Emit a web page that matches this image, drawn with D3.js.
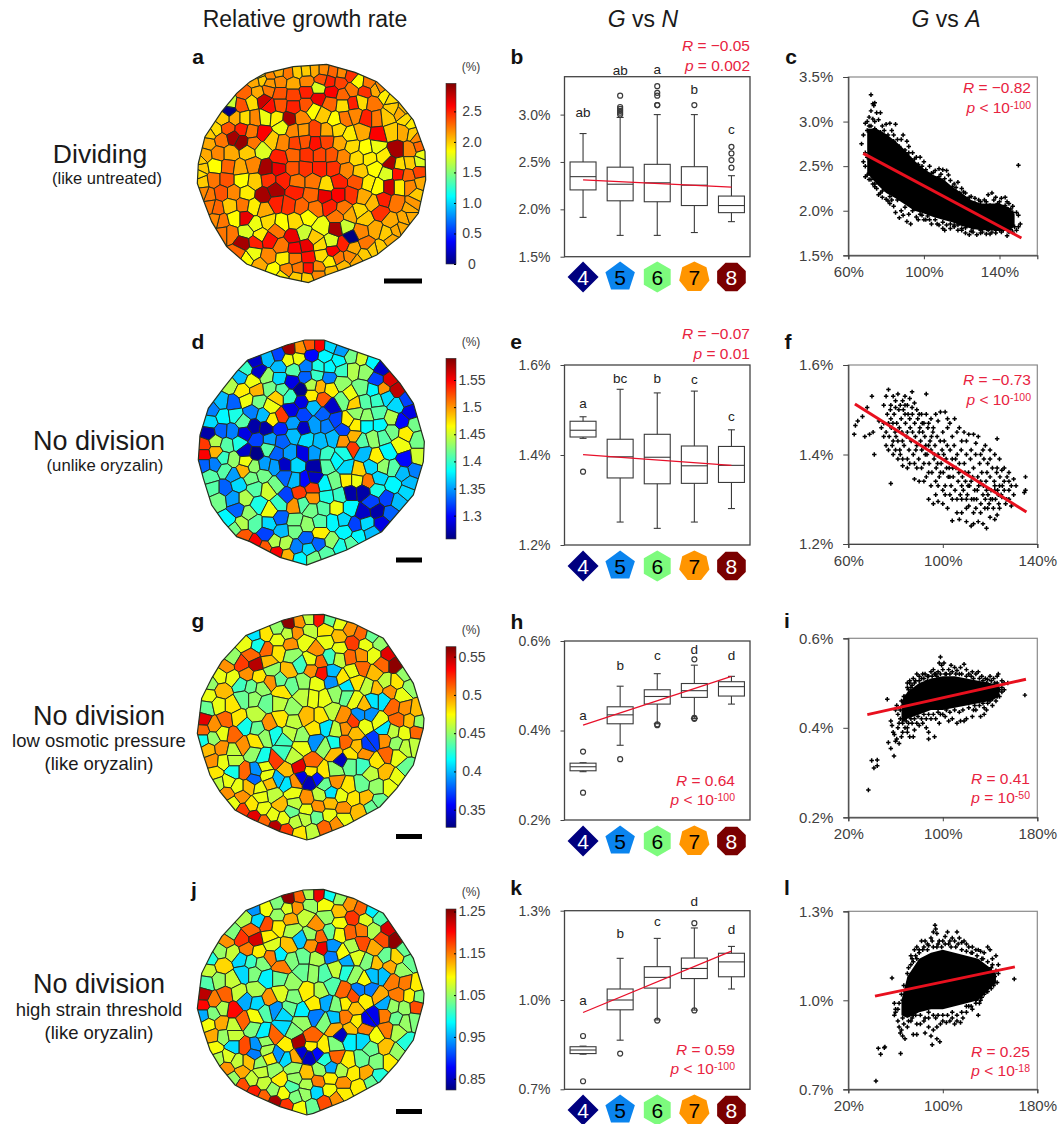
<!DOCTYPE html>
<html lang="en">
<head>
<meta charset="UTF-8">
<title>Relative growth rate, G vs N, G vs A</title>
<script src="https://cdnjs.cloudflare.com/ajax/libs/d3/7.8.5/d3.min.js"></script>
<style>
  body { margin: 0; background: #fff; }
  svg { display: block; font-family: "Liberation Sans", Arial, sans-serif; }
  .tick text { fill: #404040; }
</style>
</head>
<body>
<div id="chart"></div>
<script>
// ---- cell maps: tissue coordinates (arbitrary units) and growth rate in % ----
const outlineA = [[210,125],[255,100],[340,80],[440,73],[525,97],[590,125],[655,185],[700,240],[735,335],[737,420],[715,520],[660,590],[590,645],[510,680],[440,705],[385,728],[300,710],[200,672],[140,620],[95,545],[70,480],[52,430],[55,370],[75,290],[125,215],[170,160]];
const cellsA = [[270,105,2.2],[325,98,2.25],[352,95,2],[378,92,2],[405,90,2.1],[430,90,2.2],[460,95,2.3],[485,98,2.2],[512,105,2.45],
[225,122,2.1],[245,118,2],[270,130,2.15],[300,125,2.2],[340,130,2.1],[380,125,2.2],[425,118,2.35],[450,125,2.5],[480,128,2.4],[535,125,1.85],[565,128,2.25],
[195,160,2.3],[235,158,2.1],[265,150,2.25],[300,160,2.35],[340,165,2.4],[380,155,2.5],[415,145,1.75],[455,155,2.6],[490,165,2.3],[515,150,2.25],[555,155,2.45],[590,150,2.1],
[150,190,1.7],[185,195,2.35],[215,185,1.95],[250,180,2.75],[270,200,2.55],[300,195,2.35],[340,200,2.5],[380,195,2.35],[415,175,2.65],[450,190,2.3],[490,195,1.95],[520,190,2.5],[545,185,1.95],[580,190,2.25],[615,165,1.9],[640,205,2],[147,212,0],
[130,235,2],[165,235,2.1],[195,235,1.95],[225,235,2.2],[255,232,1.8],[290,235,1.9],[328,238,2.85],[365,235,2.2],[400,210,1.85],[430,225,2],[465,240,1.85],[495,235,2.25],[525,225,2.2],[560,235,2.5],[590,235,2.25],[620,232,2],[660,215,2.1],[680,240,1.95],
[105,270,1.95],[145,265,2.35],[185,268,2.5],[215,275,2.25],[250,280,2.6],[305,260,1.8],[340,272,2.2],[370,270,2.15],[405,270,2.4],[440,272,2.1],[475,268,1.95],[510,285,1.9],[545,275,2.1],[595,285,2.6],[635,275,2],[670,275,2.1],[700,280,2],
[85,310,2.1],[125,300,2.25],[160,292,2.85],[185,305,2.9],[220,310,2.25],[275,300,2],[310,308,2.2],[345,310,2.4],[375,305,2.35],[405,310,2.55],[440,305,2.4],[480,310,2.1],[515,320,1.95],[560,325,1.85],[590,320,1.8],[650,330,2.85],[690,330,2.2],[720,320,2.3],
[75,345,2.1],[115,340,2.2],[150,340,2.1],[205,335,2],[245,330,1.75],[300,355,2.5],[340,345,2.3],[380,345,2.45],[420,345,2.4],[455,345,2.35],[490,350,2.2],[530,355,1.95],[570,355,1.9],[610,350,1.9],
[65,385,2],[105,378,1.85],[145,380,2.3],[180,385,2.1],[220,375,2.2],[258,385,2.85],[295,385,2.65],[340,385,2.35],[375,385,2.45],[420,385,2.5],[460,385,2.45],[500,390,2.2],[540,395,2],[585,385,1.85],[630,370,2.85],[660,375,1.95],[690,370,2],[720,365,1.75],
[68,425,2],[100,420,2.25],[140,420,2.35],[185,420,1.85],[225,425,2],[265,420,2.45],[310,420,2.5],[350,425,2.25],[400,425,2.25],[440,435,1.95],[475,425,2.5],[530,425,2.35],[565,430,1.9],[620,400,1.75],[655,400,2.55],[685,405,2.3],[718,395,2.4],
[85,465,2.25],[125,458,2.35],[160,458,2.2],[200,460,1.9],[250,465,2.85],[285,450,2.85],[345,455,2.5],[395,465,2.3],[435,468,2.65],[475,465,2.6],[515,465,2.45],[550,470,2.1],[595,440,1.85],[628,440,2.75],[658,440,1.9],[690,440,2.2],[712,465,2],
[110,505,2.3],[150,498,2],[190,495,2.25],[220,500,1.9],[255,510,2.1],[290,490,2.5],[325,495,2.45],[365,500,2.3],[405,505,2.25],[450,500,2.5],[490,505,2.25],[540,515,1.95],[580,490,2.05],[610,480,2.5],[650,490,2.25],[690,505,2.1],
[125,545,2.25],[165,535,1.85],[195,535,2.65],[225,555,1.8],[265,545,1.95],[305,550,1.85],[345,545,1.95],[385,530,1.85],[425,560,1.8],[470,530,2.25],[510,525,2.1],[555,535,2],[600,515,2.45],[635,545,2.1],[675,535,2.1],
[150,580,2.25],[200,575,1.75],[240,585,1.9],[290,570,2.25],[340,590,2.65],[370,580,1.7],[405,595,2],[455,605,1.75],[470,565,2.85],[497,560,1.7],[512,592,0],[545,575,2.2],[585,570,2.1],[620,580,2],[650,570,2.1],
[190,610,2.85],[225,607,2.5],[268,600,2.55],[305,620,2.25],[345,625,2.6],[380,618,2.65],[420,615,1.95],[458,633,2.6],[490,612,2.5],[520,625,2.1],[560,610,2.25],[600,625,2],
[200,655,1.85],[220,640,1.8],[265,650,2.2],[310,655,1.9],[345,655,2.25],[385,652,2.55],[425,645,1.95],[475,655,2.25],[510,650,2.2],[555,645,2],
[240,675,2.1],[280,690,1.85],[320,690,2.2],[355,685,2.25],[385,685,2.55],[415,685,2.2],[450,665,1.9],[490,680,2.05],
[305,710,1.9],[350,712,2],[380,715,2],[415,702,2.2],[455,695,2.05],
[600,145,2.2],[635,175,1.95],[670,205,2.05],[692,250,1.9],[712,290,2.2],[728,345,1.8],[725,430,2.1],[700,490,2.15],[690,530,2.1],[665,565,2.1],[635,600,2.1],[580,630,2],[530,665,2.1],[175,640,2.3],[130,580,2.25],[105,540,2.2],[90,500,2.25],[72,460,2.2],[58,400,1.95],[60,360,2],[90,280,2],[295,95,2.1],[240,105,2]];

const outlineD = [[203,105],[320,60],[375,45],[432,45],[500,70],[600,105],[660,175],[700,235],[733,350],[730,410],[700,510],[605,620],[500,675],[440,698],[380,720],[300,697],[210,650],[170,635],[130,590],[95,540],[70,460],[55,405],[60,330],[85,250],[130,190],[170,140]];
const cellsD = [[330,72,1.58],[360,70,1.5],[390,60,1.52],[418,60,1.55],[450,62,1.37],[485,75,1.35],
[225,108,1.28],[265,100,1.36],[295,90,1.32],[325,105,1.46],[355,100,1.46],[395,90,1.3],[435,95,1.38],[475,110,1.38],[515,95,1.42],[545,100,1.45],[577,110,1.38],[605,130,1.28],
[195,130,1.4],[238,140,1.28],[298,125,1.36],[340,135,1.41],[378,125,1.34],[415,125,1.39],[450,125,1.38],[485,135,1.4],[520,135,1.44],[555,140,1.43],[590,165,1.32],[630,165,1.56],
[180,155,1.36],[260,155,1.43],[298,160,1.37],[335,170,1.29],[362,195,1.26],[378,155,1.33],[410,150,1.4],[448,160,1.34],[482,175,1.43],[150,180,1.44],[188,198,1.47],[218,170,1.46],[230,195,1.49],[270,190,1.42],[305,195,1.41],[420,185,1.49],[452,190,1.47],[395,180,1.44],[510,210,1.46],[545,190,1.42],[610,192,1.5],[650,195,1.57],[580,195,1.38],
[125,230,1.36],[160,235,1.33],[200,225,1.46],[235,230,1.42],[272,245,1.46],[290,215,1.48],[330,215,1.4],[395,212,1.47],[428,222,1.52],[365,230,1.29],[455,245,1.28],[490,225,1.42],[525,235,1.48],[555,230,1.41],[590,225,1.4],[620,215,1.37],[650,240,1.37],[680,225,1.32],
[95,255,1.34],[90,290,1.37],[130,275,1.38],[165,270,1.39],[190,290,1.41],[215,260,1.34],[250,270,1.36],[305,275,1.53],[278,285,1.47],[335,255,1.29],[370,270,1.32],[400,245,1.36],[430,270,1.33],[465,285,1.32],[505,288,1.47],[530,265,1.43],[560,275,1.43],[595,265,1.41],[635,280,1.44],[665,290,1.3],[692,260,1.29],
[85,325,1.27],[125,318,1.33],[155,320,1.34],[195,325,1.29],[222,305,1.27],[258,310,1.27],[300,310,1.31],[340,295,1.35],[370,310,1.28],[405,300,1.35],[440,300,1.34],[490,315,1.32],[525,300,1.47],[560,300,1.38],[600,300,1.38],[635,320,1.42],[678,325,1.47],[705,300,1.42],
[72,360,1.53],[107,350,1.44],[140,360,1.41],[178,355,1.39],[230,345,1.32],[270,345,1.35],[305,350,1.33],[342,330,1.36],[380,345,1.37],[420,350,1.36],[460,340,1.36],[490,348,1.5],[522,335,1.49],[520,368,1.53],[545,350,1.41],[580,340,1.43],[610,335,1.41],[660,360,1.46],[715,340,1.42],
[72,388,1.55],[107,380,1.49],[105,418,1.34],[72,420,1.33],[130,400,1.4],[160,405,1.43],[195,378,1.28],[228,385,1.26],[265,370,1.41],[290,385,1.33],[330,385,1.35],[370,385,1.29],[402,385,1.35],[440,390,1.4],[490,385,1.39],[550,385,1.36],[590,397,1.47],[625,380,1.38],[675,405,1.3],[715,400,1.45],
[90,455,1.41],[135,435,1.41],[160,450,1.35],[190,435,1.49],[197,410,1.46],[222,425,1.43],[255,420,1.35],[282,425,1.35],[315,420,1.28],[350,420,1.37],[405,425,1.27],[440,420,1.41],[470,405,1.38],[500,430,1.37],[535,437,1.48],[575,425,1.37],[610,425,1.43],[640,430,1.41],[705,435,1.34],[668,445,1.36],
[100,490,1.41],[135,490,1.33],[175,480,1.37],[215,460,1.42],[250,450,1.42],[285,480,1.42],[315,455,1.33],[345,465,1.36],[375,465,1.3],[402,458,1.28],[435,480,1.38],[465,470,1.42],[500,465,1.47],[530,465,1.46],[565,470,1.51],[597,460,1.37],[640,480,1.38],[690,475,1.36],
[115,525,1.42],[160,520,1.35],[195,520,1.44],[225,490,1.41],[265,495,1.45],[320,515,1.32],[358,505,1.53],[397,490,1.53],[397,518,1.5],[440,515,1.39],[480,510,1.4],[510,503,1.27],[550,500,1.27],[590,495,1.39],[620,520,1.32],[655,530,1.36],[680,500,1.37],
[145,585,1.38],[172,555,1.33],[205,565,1.43],[235,540,1.39],[270,558,1.46],[300,535,1.4],[343,540,1.5],[368,535,1.41],[395,555,1.42],[430,550,1.41],[470,550,1.46],[510,550,1.38],[550,563,1.28],[592,558,1.27],[575,530,1.32],[630,565,1.33],
[165,610,1.42],[185,595,1.44],[225,595,1.41],[268,595,1.37],[300,580,1.33],[345,590,1.42],[382,600,1.43],[420,590,1.41],[460,590,1.38],[490,585,1.37],[525,600,1.32],[560,595,1.37],[605,595,1.29],
[190,635,1.52],[225,655,1.55],[258,628,1.32],[305,618,1.36],[345,615,1.42],[380,640,1.33],[420,625,1.47],[455,650,1.43],[495,620,1.38],[535,635,1.38],[575,625,1.36],
[255,668,1.52],[285,650,1.44],[315,655,1.44],[290,683,1.55],[350,668,1.34],[415,655,1.33],[385,672,1.37],[322,692,1.49],[360,700,1.38],[400,700,1.42],[440,685,1.41],[480,665,1.39],[515,655,1.41]];

// g and j are the same tissue: x, y, growth in g, growth in j
const outlineG = [[197,92],[310,45],[370,30],[430,28],[520,55],[610,100],[665,180],[700,235],[732,340],[730,370],[700,480],[650,550],[600,605],[500,660],[400,700],[380,705],[300,680],[210,640],[165,615],[120,560],[90,510],[70,450],[52,385],[65,280],[95,220],[125,170]];
const cellsG = [[327,55,.56,1.25],[358,52,.5,1.16],[388,42,.46,1.06],[415,42,.53,1.21],[450,45,.44,.99],[480,55,.47,1.05],[510,72,.5,1.14],[543,85,.51,1.16],[575,93,.44,.98],
[222,88,.41,.94],[258,85,.48,1.09],[293,70,.45,1.04],[322,85,.46,1.08],[352,82,.5,1.14],[388,75,.46,1.05],[437,75,.48,1.09],[477,95,.49,1.12],[517,115,.52,1.18],[557,120,.47,1.08],[600,115,.45,1.02],
[197,115,.47,1.06],[233,122,.42,.97],[260,135,.51,1.17],[295,105,.47,1.05],[330,118,.5,1.13],[375,108,.47,1.07],[410,135,.5,1.14],[440,110,.47,1.05],[480,130,.47,1.09],[625,148,.54,1.22],
[155,160,.45,1.04],[185,178,.52,1.18],[215,150,.51,1.16],[228,178,.55,1.22],[265,170,.49,1.1],[295,140,.48,1.1],[335,150,.45,1.06],[395,165,.47,1.05],[360,180,.43,.96],[420,170,.51,1.16],[450,155,.43,1.03],[478,160,.46,1.09],[510,155,.51,1.16],[545,150,.5,1.15],[580,150,.47,1.06],[607,178,.51,1.17],[647,178,.56,1.25],
[140,183,.5,1.14],[120,213,.47,1.05],[158,218,.47,1.07],[200,208,.5,1.15],[237,215,.48,1.1],[275,195,.45,1.08],[300,225,.44,.98],[327,197,.49,1.12],[395,195,.5,1.14],[425,205,.53,1.21],[458,202,.4,.94],[455,228,.39,.93],[487,220,.48,1.09],[520,200,.47,1.06],[545,190,.51,1.17],[585,205,.49,1.13],[615,230,.46,1.03],[650,232,.48,1.11],[675,208,.45,1.03],
[90,235,.45,1],[128,258,.49,1.11],[85,272,.47,1.07],[183,238,.43,.97],[213,245,.44,1.01],[245,250,.45,1.04],[272,230,.5,1.15],[305,260,.48,1.15],[335,240,.44,1.04],[370,230,.45,1.03],[410,235,.47,1.06],[500,243,.41,.95],[530,230,.48,1.08],[565,245,.46,1.04],[588,250,.49,1.12],[630,260,.5,1.13],[665,270,.47,1.05],[690,245,.45,1.03],
[80,308,.44,1.02],[117,300,.47,1.05],[155,300,.48,1.07],[190,280,.44,.97],[222,280,.45,1.04],[258,295,.44,.98],[298,295,.46,1.03],[338,310,.45,1.05],[370,275,.46,1.03],[400,278,.47,1.05],[432,280,.47,1.02],[467,265,.45,1.07],[500,273,.44,1],[525,285,.47,1.05],[553,300,.49,1.09],[580,285,.41,.96],[610,285,.41,.96],[640,305,.51,1.15],[675,310,.5,1.15],[710,315,.49,1.1],
[70,345,.54,1.23],[68,375,.51,1.2],[103,362,.5,1.15],[137,345,.51,1.16],[175,340,.48,1.07],[195,362,.42,.95],[228,330,.46,1.06],[268,357,.5,1.14],[303,340,.48,1.08],[340,350,.46,1.04],[380,335,.49,1.1],[425,335,.48,1.06],[455,320,.46,1.02],[490,335,.5,1.16],[520,350,.52,1.17],[540,330,.39,.93],[568,330,.39,.93],[597,350,.47,1.13],[655,345,.51,1.15],[688,347,.49,1.1],[718,350,.45,1.04],
[68,405,.42,.95],[100,400,.45,1.04],[160,390,.51,1.2],[128,385,.47,1.06],[233,370,.44,.97],[285,388,.42,.94],[330,385,.46,1.03],[365,395,.45,.98],[403,372,.48,1.1],[438,367,.41,.95],[468,375,.46,1.04],[497,370,.5,1.1],[525,385,.49,1.12],[555,360,.47,1.1],[612,372,.41,.95],[640,380,.46,1.05],[672,385,.47,1.05],[710,382,.51,1.17],
[85,435,.49,1.09],[125,430,.5,1.13],[160,438,.46,1.07],[190,422,.5,1.16],[225,410,.48,1.09],[255,395,.45,1.02],[312,405,.43,.97],[365,425,.47,1.05],[408,408,.39,.93],[435,425,.45,1.04],[462,415,.42,.96],[497,412,.51,1.15],[530,425,.49,1.1],[563,422,.37,.87],[583,407,.37,.87],[612,405,.5,1.15],[675,425,.46,1.05],[705,420,.46,1.04],[650,415,.45,1.03],
[97,467,.5,1.13],[130,470,.47,1.05],[160,465,.46,1.07],[220,445,.45,1.04],[250,458,.42,.98],[285,465,.52,1.16],[310,440,.43,.97],[340,455,.46,1.04],[395,473,.51,1.16],[465,445,.49,1.13],[483,465,.34,.85],[512,445,.48,1.12],[555,445,.5,1.15],[590,470,.48,1.09],[622,450,.51,1.15],[650,455,.47,1.06],[680,490,.44,1],
[105,505,.48,1.09],[160,500,.42,.97],[195,500,.51,1.17],[228,497,.39,.94],[255,485,.47,1.05],[318,497,.49,1.1],[357,487,.54,1.24],[393,498,.48,1.1],[430,500,.48,1.1],[465,495,.45,1.04],[510,480,.44,.98],[548,480,.43,.97],[575,505,.46,1.03],[615,500,.49,1.12],[652,518,.47,1.05],
[115,535,.46,1.06],[145,530,.47,1.08],[222,522,.38,.93],[260,510,.47,1.06],[296,523,.4,.94],[320,535,.41,.97],[365,517,.35,.86],[388,530,.34,.85],[412,520,.36,.88],[468,530,.5,1.16],[435,540,.44,1],[505,545,.48,1.1],[545,540,.44,1.03],[590,545,.45,1.04],[630,545,.47,1.1],
[142,565,.5,1.14],[185,575,.5,1.13],[172,545,.47,1.07],[207,545,.49,1.12],[240,550,.47,1.05],[270,535,.49,1.1],[345,530,.5,1.13],[280,570,.46,1.05],[245,575,.47,1.07],[340,565,.47,1.05],[380,580,.5,1.12],[420,570,.46,1.05],[452,563,.41,.95],[485,572,.47,1.06],[520,580,.48,1.1],[558,578,.49,1.13],[595,590,.44,1],
[160,595,.47,1.05],[190,615,.52,1.17],[215,600,.48,1.07],[250,610,.47,1.07],[300,600,.49,1.1],[345,595,.46,1.05],[380,615,.47,1.06],[415,605,.5,1.15],[450,595,.49,1.1],[490,610,.5,1.14],[535,620,.49,1.1],[575,605,.44,1.03],
[222,635,.54,1.19],[252,650,.51,1.16],[285,665,.55,1.24],[280,630,.47,1.05],[318,675,.52,1.18],[335,620,.44,1.02],[375,640,.46,1.05],[410,635,.44,.97],[448,630,.47,1.09],[490,640,.47,1.1],[347,650,.46,1.04],[360,685,.48,1.09],[397,680,.46,1.03],[433,668,.51,1.17],[470,655,.5,1.14],[310,640,.47,1.09]];

// ---- colour bar ticks and ranges ----
const ticksA = [0,0.5,1,1.5,2,2.5], rangeA = [0,2.96];
const ticksD = [1.3,1.35,1.4,1.45,1.5,1.55], rangeD = [1.257,1.59];
const ticksG = [0.35,0.4,0.45,0.5,0.55], rangeG = [0.327,0.563];
const ticksJ = [0.85,0.95,1.05,1.15,1.25], rangeJ = [0.823,1.256];
const jet = ["#00007f","#0000ff","#007fff","#00ffff","#7fff7f","#ffff00","#ff7f00","#ff0000","#7f0000"];

// ---- box plots: [low whisker, Q1, median, Q3, high whisker] for 4..8 neighbours ----
const neighbours = [4,5,6,7,8];
const boxB = [[1.915,2.205,2.345,2.5,2.8],[1.725,2.09,2.265,2.445,2.97],[1.725,2.08,2.28,2.475,3],[1.755,2.04,2.255,2.45,3],[1.87,1.965,2.04,2.14,2.355]];
const outB = [[],[3.2,3.08,3.06,3.04,3.02,3],[3.1,3.2,3.23,3.3,3.1],[3.1],[2.44,2.52,2.59,2.66]];
const trendB = [2.31,2.235];
const lettersB = [["ab",3.02],["ab",3.47],["a",3.48],["b",3.27],["c",2.845]];
const boxE = [[1.437,1.44,1.455,1.475,1.485],[1.251,1.349,1.396,1.435,1.546],[1.237,1.336,1.395,1.446,1.538],[1.251,1.337,1.376,1.42,1.542],[1.281,1.339,1.377,1.419,1.456]];
const outE = [[1.363],[],[],[],[]];
const trendE = [1.401,1.377];
const lettersE = [["a",1.515],["bc",1.57],["b",1.57],["c",1.569],["c",1.487]];
const boxH = [[.308,.31,.319,.327,.328],[.367,.415,.435,.453,.499],[.415,.459,.476,.491,.527],[.427,.474,.489,.505,.546],[.459,.477,.498,.509,.521]];
const outH = [[.353,.261],[.336],[.412,.414],[.559,.426,.428],[]];
const trendH = [.412,.521];
const lettersH = [["a",.435],["b",.545],["c",.567],["d",.581],["d",.569]];
const boxK = [[.818,.82,.832,.843,.845],[.865,.967,1,1.037,1.14],[.933,1.04,1.076,1.112,1.207],[.966,1.072,1.106,1.141,1.242],[1.037,1.078,1.128,1.157,1.18]];
const outK = [[.879,.727],[.82],[.931],[1.258,.965],[]];
const trendK = [.958,1.164];
const lettersK = [["a",1],["b",1.224],["c",1.266],["d",1.33],["d",1.237]];

// ---- scatter clouds: [A %, G %] points, dense core as [A, low G, high G] ----
const coreC = [[70,2.42,2.92],[75,2.3,2.92],[80,2.2,2.86],[85,2.14,2.78],[90,2.07,2.68],[95,2,2.56],[100,1.97,2.47],[105,1.93,2.4],[110,1.9,2.36],[115,1.87,2.27],[120,1.83,2.2],[125,1.8,2.12],[130,1.78,2.08],[135,1.78,2.08],[140,1.78,2.08],[145,1.78,2.04],[148,1.82,1.96]];
const pointsC = [[72,3.3],[73,3.2],[73.5,3.18],[74,3.21],[72,3.12],[75,3.1],[77,3.1],[71,3.05],[70,3],[69,2.98],[73,3.03],[76,3.02],[78,2.95],[80,2.97],[82,2.98],[85,2.97],[83,2.9],[88,2.8],[89,2.85],[91,2.78],[92,2.72],[94,2.65],[96,2.6],[98,2.6],[100,2.55],[103,2.5],[106,2.45],[108,2.47],[110,2.46],[112,2.45],[113,2.4],[116,2.3],[118,2.32],[120,2.25],[122,2.2],[124,2.15],[127,2.14],[130,2.1],[132,2.12],[134,2.18],[136,2.2],[138,2.15],[141,2.14],[143,2.15],[145,2.08],[147,2.05],[149,1.98],[150,1.95],[151,1.85],[150,1.82],[150,2.51],
[67,2.75],[68,2.85],[69,2.65],[68,2.55],[69,2.38],[71,2.42],[72,2.35],[73,2.3],[75,2.25],[76,2.18],[78,2.15],[80,2.13],[82,2.08],[84,2.05],[85,1.98],[87,1.92],[89,1.95],[91,1.88],[93,1.85],[97,1.9],[99,1.95],[101,1.9],[104,1.85],[107,1.85],[110,1.8],[111,1.78],[114,1.8],[116,1.82],[118,1.78],[120,1.8],[122,1.75],[124,1.73],[126,1.76],[128,1.73],[130,1.75],[133,1.74],[135,1.74],[138,1.75],[141,1.76],[144,1.72],[147,1.76],[149,1.78],
[70,2.9],[72,2.95],[74,2.92],[77,2.88],[81,2.85],[84,2.78],[87,2.72],[90,2.68],[93,2.58],[97,2.52],[101,2.46],[104,2.42],[108,2.38],[111,2.36],[115,2.27],[119,2.2],[123,2.12],[127,2.08],[131,2.05],[135,2.06],[139,2.08],[143,2.06],[146,2.02],[70,2.4],[74,2.3],[78,2.22],[82,2.16],[86,2.12],[90,2.04],[94,2],[98,1.96],[102,1.94],[106,1.9],[110,1.87],[114,1.85],[118,1.84],[122,1.81],[126,1.8],[130,1.78],[134,1.78],[138,1.78],[142,1.78],[146,1.79],
[71,2.95],[74,3],[79,2.9],[84,2.85],[86,2.8],[92,2.65],[95,2.58],[99,2.5],[105,2.43],[109,2.41],[114,2.34],[117,2.26],[121,2.21],[125,2.16],[129,2.12],[133,2.1],[137,2.12],[140,2.1],[144,2.1],[147,1.98],[69,2.5],[70,2.6],[71,2.35],[74,2.27],[77,2.2],[81,2.11],[83,2.12],[88,2],[92,1.96],[96,1.93],[100,1.9],[103,1.9],[108,1.84],[112,1.84],[116,1.84],[120,1.78],[125,1.77],[131,1.76],[136,1.76],[140,1.78],[145,1.76],[148,1.82]];
const trendC = [[67.9,2.644],[151.6,1.694]];

// panel f has no solid core, only separate points
const pointsF = [[62.5,1.445],[63,1.465],[64,1.475],[66,1.485],[68,1.505],[70,1.53],[67,1.44],[69,1.445],[70.5,1.45],[71,1.4],[73,1.475],[75,1.51],[76,1.53],[77,1.545],[78,1.51],[79,1.53],[80,1.52],[81,1.535],[83,1.52],[84,1.53],[86,1.525],[87,1.54],[88,1.515],[93,1.535],[91,1.49],[93,1.49],[95,1.48],[97,1.49],[99,1.495],[101,1.495],[102,1.48],[105,1.48],[103,1.47],[107,1.46],[109,1.45],[111,1.445],[113,1.445],[115,1.44],[118,1.42],[120,1.41],[123,1.435],[122,1.4],[124,1.39],[126,1.37],[128,1.36],[130,1.345],[135,1.35],[135,1.32],[134.5,1.315],[131,1.33],[130,1.31],[128,1.32],[129,1.285],[127,1.3],[125,1.305],[124,1.28],[123,1.265],[122,1.255],[120,1.26],[118.5,1.235],[117,1.245],[115,1.25],[113,1.245],[112,1.24],[110,1.25],[107,1.255],[104,1.252],[106,1.27],[108,1.27],[110,1.28],[102,1.28],[100,1.29],[98,1.295],[96,1.29],[94,1.3],[97,1.31],[95,1.33],[92,1.34],[90,1.34],[88,1.345],[85,1.37],[83,1.375],[81,1.39],[78,1.335],[79,1.4],[77,1.41],[76,1.42],[75,1.44],[74,1.46],
[78,1.48],[77,1.47],[82,1.51],[85,1.51],[89,1.5],[92,1.47],[96,1.46],[100,1.45],[104,1.44],[108,1.43],[112,1.41],[116,1.4],[119,1.38],[123,1.37],[126,1.34],[124,1.33],[121,1.3],[119,1.28],[116,1.27],[113,1.27],[110,1.3],[106,1.3],[103,1.31],[100,1.32],[97,1.34],[94,1.36],[91,1.37],[88,1.38],[85,1.39],[82,1.4],[79,1.43],
[80,1.505],[84,1.51],[87,1.505],[90,1.49],[94,1.47],[98,1.475],[102,1.46],[106,1.45],[110,1.43],[114,1.425],[117,1.41],[120,1.39],[125,1.365],[128,1.34],[122,1.32],[118,1.3],[114,1.28],[111,1.285],[108,1.3],[104,1.3],[101,1.31],[98,1.33],[93,1.35],[89,1.37],[86,1.38],[83,1.39],[80,1.41],[76,1.45],[75,1.47],
[76.5,1.49],[77.3,1.44],[78.2,1.46],[78.6,1.42],[79.4,1.49],[79.8,1.45],[80.5,1.47],[81,1.43],[81.4,1.5],[81.8,1.41],[82.4,1.48],[82.7,1.45],[83.3,1.5],[83.6,1.42],[84.2,1.47],[84.6,1.44],[85.3,1.49],[85.7,1.41],[86.2,1.46],[86.6,1.43],[87.1,1.49],[87.5,1.4],[88.1,1.47],[88.4,1.44],[89,1.42],[89.4,1.48],[89.8,1.39],[90.3,1.46],[90.6,1.43],[91.1,1.41],[91.5,1.45],[92,1.38],[92.4,1.44],[92.8,1.42],[93.3,1.4],[93.7,1.46],[94.2,1.38],[94.6,1.43],[95,1.41],[95.4,1.36],[95.8,1.45],[96.3,1.39],[96.7,1.42],[97.2,1.37],[97.6,1.44],[98,1.4],[98.5,1.35],[98.9,1.43],[99.3,1.38],[99.7,1.41],[100.2,1.36],[100.6,1.43],[101,1.33],[101.4,1.39],[101.9,1.42],[102.3,1.35],[102.7,1.37],[103.1,1.41],[103.5,1.33],[104,1.39],[104.4,1.35],[104.8,1.42],[105.2,1.32],[105.6,1.37],[106.1,1.4],[106.5,1.34],[107,1.38],[107.4,1.31],[107.8,1.41],[108.3,1.35],[108.7,1.32],[109.1,1.38],[109.6,1.34],[110,1.4],[110.4,1.31],[110.9,1.36],[111.3,1.33],[111.7,1.39],[112.2,1.3],[112.6,1.35],[113,1.37],[113.5,1.32],[113.9,1.4],[114.3,1.3],[114.8,1.35],[115.2,1.33],[115.6,1.38],[116.1,1.29],[116.5,1.36],[117,1.31],[117.4,1.39],[117.8,1.28],[118.3,1.34],[118.7,1.36],[119.1,1.31],[119.6,1.29],[120,1.35],[120.4,1.32],[121,1.37],[121.4,1.28],[121.8,1.34],[122.3,1.3],[122.8,1.36],[123.2,1.32],[123.7,1.29],[124.2,1.35],[124.7,1.31],[125.2,1.33],[126,1.32],[126.6,1.29],[127.2,1.35],[128,1.3],[129,1.33],
[77.8,1.5],[78.9,1.47],[80.2,1.44],[81.6,1.46],[82.9,1.43],[84,1.49],[85,1.45],[86,1.48],[87.2,1.45],[88.6,1.41],[90,1.45],[91.3,1.47],[92.6,1.4],[94,1.42],[95.2,1.44],[96.5,1.4],[97.8,1.38],[99,1.36],[100.4,1.4],[101.6,1.37],[103,1.35],[104.2,1.37],[105.4,1.39],[106.8,1.36],[108,1.33],[109.4,1.36],[110.7,1.33],[112,1.34],[113.2,1.3],[114.6,1.32],[116,1.34],[117.2,1.33],[118.5,1.32],[120.2,1.3],[122,1.33],[123.5,1.31]];
const trendF = [[62.8,1.513],[135.4,1.2715]];

const coreI = [[65,.41,.46],[70,.42,.48],[80,.43,.5],[90,.44,.51],[100,.44,.515],[110,.445,.515],[120,.45,.51],[130,.455,.505],[140,.46,.5],[148,.47,.495]];
const pointsI = [[37,.261],[39.8,.327],[44.5,.328],[41.7,.31],[44.5,.315],[58.7,.337],[56,.354],[53.9,.367],[53,.464],[169.5,.473],
[59,.385],[60,.37],[61,.375],[58,.39],[57,.405],[56,.415],[63,.365],[65,.38],[62,.4],[64,.42],[60,.44],[61,.45],[65,.46],[67,.47],[70,.49],[70,.5],[72,.505],[73,.49],[75,.51],[78,.52],[80,.515],[83,.52],[85,.52],[87,.505],[90,.525],[92,.53],[94,.52],[96,.525],[97,.545],[98,.558],[99,.54],[101,.545],[103,.52],[105,.53],[107,.54],[110,.535],[112,.528],[115,.535],[118,.542],[120,.53],[122,.52],[125,.525],[128,.52],[130,.525],[133,.515],[136,.51],[138,.508],[140,.515],[143,.51],[146,.515],[147,.52],[150,.505],[152,.5],[155,.5],[152,.485],[150,.48],[148,.47],[145,.46],[142,.45],[140,.46],[137,.44],[135,.43],[132,.425],[128,.44],[125,.425],[120,.42],[118,.415],[115,.415],[112,.41],[108,.42],[105,.415],[102,.425],[100,.43],[97,.41],[93,.38],[88,.375],[88,.39],[86,.4],[83,.41],[80,.405],[76,.395],[75,.38],[72,.38],[70,.39],[68,.4],[66,.39],
[63,.41],[66,.41],[70,.4],[74,.41],[78,.41],[82,.42],[86,.42],[90,.42],[94,.42],[66,.45],[68,.44],[72,.5],[76,.5],[82,.51],[88,.515],[93,.52],[100,.53],[108,.525],[114,.52],[124,.515],[134,.505],[144,.5],[148,.485],[145,.48],[135,.445],[126,.44],
[62,.43],[64,.44],[67,.42],[69,.415],[71,.41],[73,.42],[76,.42],[79,.425],[84,.43],[88,.43],[92,.43],[96,.435],[98,.43],[103,.44],[106,.435],[110,.44],[114,.435],[117,.44],[122,.445],[127,.45],[131,.45],[134,.455],[138,.455],[142,.465],[146,.47],[150,.49],[68,.47],[71,.485],[74,.495],[77,.505],[80,.505],[84,.51],[87,.515],[91,.515],[95,.515],[98,.52],[102,.52],[106,.52],[111,.52],[116,.52],[120,.515],[126,.51],[131,.51],[137,.5],[141,.505],[146,.5]];
const trendI = [[36.1,.4295],[170.4,.5085]];

const coreL = [[65,.95,1],[70,.94,1.08],[80,.96,1.14],[90,.97,1.16],[100,.97,1.17],[110,.98,1.16],[120,.99,1.15],[130,1,1.14],[140,1.04,1.11],[145,1.06,1.09]];
const pointsL = [[43.4,.728],[45.4,.838],[51,.843],[50.5,.84],[47.4,.818],[64.3,.821],[57,1.075],[160.5,1.072],
[59,.99],[60,.97],[59,.95],[60,.96],[62,.93],[63,.91],[64,.89],[65,.9],[66,.88],[68,.87],[70,.91],[66,.94],[68,.96],[70,.99],[66,1],[68,1.03],[72,1.06],[74,1.09],[73,1.12],[73,1.15],[75,1.13],[76,1.17],[78,1.18],[80,1.16],[82,1.2],[85,1.2],[87,1.19],[90,1.21],[91,1.2],[92,1.23],[93.4,1.253],[94,1.24],[95,1.225],[97,1.2],[100,1.2],[102,1.215],[104,1.23],[106,1.2],[108,1.21],[110,1.2],[112,1.23],[114,1.21],[116,1.195],[118,1.2],[120,1.19],[122,1.18],[125,1.18],[128,1.17],[130,1.17],[132,1.165],[135,1.16],[138,1.18],[140,1.17],[142,1.14],[145,1.15],[147,1.12],[147,1.09],[146,1.06],[143,1.05],[140,1.05],[138,1.03],[135,1.02],[132,1],[128,.99],[130,.95],[125,.97],[120,.96],[117,.94],[115,.925],[112,.93],[110,.92],[106,.93],[103,.925],[100,.93],[98,.92],[95,.91],[92,.9],[88,.91],[85,.89],[90,.88],[95,.87],[91,.85],[97.5,.86],[75,.885],[78,.885],[81,.92],[73,.93],
[72,.97],[75,.95],[78,.92],[84,.93],[88,.94],[94,.94],[76,1.1],[78,1.14],[83,1.17],[88,1.185],[96,1.19],[105,1.19],[113,1.19],[124,1.16],[133,1.14],[142,1.12],[144,1.08],[136,1.05],[131,.99],[122,.98],[108,.94],
[62,.97],[63,.99],[65,1.02],[67,1.05],[70,1.09],[71,1.11],[74,1.14],[77,1.15],[80,1.17],[84,1.18],[87,1.17],[92,1.18],[95,1.18],[99,1.18],[102,1.19],[107,1.18],[111,1.18],[116,1.17],[120,1.165],[125,1.16],[129,1.15],[134,1.14],[138,1.13],[141,1.11],[145,1.1],[67,.92],[71,.93],[74,.94],[77,.95],[81,.95],[85,.94],[88,.96],[92,.95],[96,.95],[100,.95],[104,.95],[108,.96],[112,.95],[116,.96],[120,.98],[124,.98],[128,1],[133,1.01],[137,1.03],[141,1.04],[144,1.06]];
const trendL = [[42.6,1.014],[161,1.1126]];

// ---- page ----
const svg = d3.select("#chart").append("svg").attr("width", 1059).attr("height", 1124);
const red = "#e8233f";
const colorAt = d3.scaleLinear().domain(d3.range(jet.length).map(i => i / (jet.length - 1))).range(jet).clamp(true);

const defs = svg.append("defs");
defs.append("linearGradient").attr("id", "jet").attr("x1", 0).attr("x2", 0).attr("y1", 1).attr("y2", 0)
  .selectAll("stop").data(jet).enter().append("stop")
  .attr("offset", (d, i) => i / (jet.length - 1)).attr("stop-color", d => d);

function cellMap(id, ox, oy, outline, cells, valueOf, range, ticks, barTop, barBottom, unitY, scaleBarX, scaleBarY, fmt) {
  const x = d3.scaleLinear().domain([0, 960]).range([ox, ox + 320]);
  const y = d3.scaleLinear().domain([0, 780]).range([oy, oy + 260]);
  const color = v => colorAt((v - range[0]) / (range[1] - range[0]));
  const outlinePath = d3.line().x(d => x(d[0])).y(d => y(d[1])).curve(d3.curveLinearClosed)(outline);
  defs.append("clipPath").attr("id", "clip-" + id).append("path").attr("d", outlinePath);

  const voronoi = d3.Delaunay.from(cells, d => x(d[0]), d => y(d[1])).voronoi([ox, oy, ox + 320, oy + 260]);
  svg.append("g").attr("clip-path", `url(#clip-${id})`)
    .selectAll("path").data(cells).enter().append("path")
    .attr("d", (d, i) => voronoi.renderCell(i))
    .attr("fill", d => color(valueOf(d)))
    .attr("stroke", "#24301f").attr("stroke-width", 1);
  svg.append("path").attr("d", outlinePath).attr("fill", "none").attr("stroke", "#24301f").attr("stroke-width", 1.2);

  // colour bar
  const bar = d3.scaleLinear().domain(range).range([barBottom, barTop]);
  svg.append("rect").attr("x", 446).attr("y", barTop).attr("width", 10).attr("height", barBottom - barTop)
    .attr("fill", "url(#jet)").attr("stroke", "#333").attr("stroke-width", 0.6);
  const ax = svg.append("g").attr("transform", "translate(456,0)")
    .call(d3.axisRight(bar).tickValues(ticks).tickSize(-2).tickPadding(15).tickFormat(fmt));
  ax.select(".domain").remove();
  ax.selectAll("text").attr("text-anchor", "middle").attr("font-size", 14).attr("x", 16);
  svg.append("text").attr("x", 471).attr("y", unitY).attr("text-anchor", "middle")
    .attr("font-size", 12).attr("fill", "#404040").text("(%)");
  // scale bar
  svg.append("rect").attr("x", scaleBarX).attr("y", scaleBarY - 2.5).attr("width", 422 - scaleBarX).attr("height", 5).attr("fill", "#000");
}

cellMap("a", 180, 40, outlineA, cellsA, d => d[2], rangeA, ticksA, 83.3, 264, 71, 384, 281, d => d === 0 ? "0" : d3.format(".1f")(d));
cellMap("d", 180, 325, outlineD, cellsD, d => d[2], rangeD, ticksD, 358.3, 539, 346, 396, 560, d => String(d));
cellMap("g", 180, 605, outlineG, cellsG, d => d[2], rangeG, ticksG, 646.7, 827.3, 634, 396, 836.5, d => String(d));
cellMap("j", 180, 880, outlineG, cellsG, d => d[3], rangeJ, ticksJ, 909, 1090, 896, 396, 1111.5, d => String(d));

// polygon badges under the box plots
const badgeSides = [4,5,6,7,8];
const badgeFill = ["#00007f","#0a84ee","#7dfb7d","#ff9500","#7a0000"];
const badgeText = ["#fff","#000","#000","#000","#fff"];
const badgeTurn = [0,0,0,0,Math.PI / 8];

function boxPanel(top, bottom, domain, tickVals, fmt, box, outliers, trend, letters, badgeY) {
  const x = d3.scaleBand().domain(neighbours).range([564.5, 750]).paddingInner(0.3).paddingOuter(0.15);
  const y = d3.scaleLinear().domain(domain).range([bottom, top]);
  const cx = n => x(n) + x.bandwidth() / 2;
  const g = svg.append("g");
  const ink = "#3a3a3a";
  neighbours.forEach((n, i) => {
    const [lo, q1, med, q3, hi] = box[i];
    const b = g.append("g").attr("stroke", ink).attr("stroke-width", 1.1).attr("fill", "none");
    b.append("line").attr("x1", cx(n)).attr("x2", cx(n)).attr("y1", y(lo)).attr("y2", y(hi));
    [lo, hi].forEach(v => b.append("line").attr("x1", cx(n) - 3.5).attr("x2", cx(n) + 3.5).attr("y1", y(v)).attr("y2", y(v)));
    b.append("rect").attr("x", x(n)).attr("width", x.bandwidth()).attr("y", y(q3)).attr("height", y(q1) - y(q3)).attr("fill", "#fff");
    b.append("line").attr("x1", x(n)).attr("x2", x(n) + x.bandwidth()).attr("y1", y(med)).attr("y2", y(med));
    b.selectAll("circle").data(outliers[i]).enter().append("circle")
      .attr("cx", cx(n)).attr("cy", d => y(d)).attr("r", 2.5).attr("stroke-width", 1.2);
    g.append("text").attr("x", cx(n)).attr("y", y(letters[i][1])).attr("dy", "0.35em").attr("text-anchor", "middle")
      .attr("font-size", 13.5).attr("fill", "#222").text(letters[i][0]);
  });
  g.append("line").attr("x1", cx(4)).attr("x2", cx(8)).attr("y1", y(trend[0])).attr("y2", y(trend[1]))
    .attr("stroke", "#e8102a").attr("stroke-width", 1.3);
  g.append("rect").attr("x", 564.5).attr("y", top).attr("width", 185.5).attr("height", bottom - top)
    .attr("fill", "none").attr("stroke", "#444").attr("stroke-width", 1.3);
  const ax = g.append("g").attr("transform", "translate(564.5,0)")
    .call(d3.axisLeft(y).tickValues(tickVals).tickSize(4).tickPadding(10).tickFormat(fmt));
  ax.select(".domain").remove();
  ax.selectAll("text").attr("font-size", 14);
  ax.selectAll("line").attr("stroke", "#444");

  neighbours.forEach((n, i) => {
    const sides = badgeSides[i];
    const radial = d3.lineRadial().curve(d3.curveLinearClosed);
    const pts = d3.range(sides).map(k => [badgeTurn[i] + k * 2 * Math.PI / sides, 15.5]);
    g.append("path").attr("transform", `translate(${cx(n)},${badgeY})`).attr("d", radial(pts)).attr("fill", badgeFill[i]);
    g.append("text").attr("x", cx(n)).attr("y", badgeY).attr("dy", "0.36em").attr("text-anchor", "middle")
      .attr("font-size", 21).attr("fill", badgeText[i]).text(n);
  });
}

const pct1 = d => d3.format(".1f")(d) + "%";
boxPanel(76.7, 256.7, [1.5, 3.4], [1.5,2,2.5,3], pct1, boxB, outB, trendB, lettersB, 277);
boxPanel(365, 545, [1.2, 1.6], [1.2,1.4,1.6], pct1, boxE, outE, trendE, lettersE, 566);
boxPanel(641, 820, [.2, .6], [.2,.4,.6], pct1, boxH, outH, trendH, lettersH, 841);
boxPanel(910.7, 1089.3, [.7, 1.3], [.7,1,1.3], pct1, boxK, outK, trendK, lettersK, 1110);

function scatterPanel(top, bottom, xDomain, xTicks, yDomain, yTicks, core, points, trend) {
  const x = d3.scaleLinear().domain(xDomain).range([848.3, 1037.3]);
  const y = d3.scaleLinear().domain(yDomain).range([bottom, top]);
  const g = svg.append("g");
  g.append("rect").attr("x", 848.3).attr("y", top).attr("width", 189).attr("height", bottom - top)
    .attr("fill", "none").attr("stroke", "#8a8a8a").attr("stroke-width", 1.2);
  if (core.length) {
    g.append("path").attr("d", d3.area().x(d => x(d[0])).y0(d => y(d[1])).y1(d => y(d[2]))(core)).attr("fill", "#000");
  }
  const mark = d3.symbol().type(d3.symbolCross).size(11);
  g.selectAll(".pt").data(points).enter().append("path").attr("class", "pt")
    .attr("transform", d => `translate(${x(d[0])},${y(d[1])})`).attr("d", mark).attr("fill", "#000");
  g.append("line").attr("x1", x(trend[0][0])).attr("y1", y(trend[0][1])).attr("x2", x(trend[1][0])).attr("y2", y(trend[1][1]))
    .attr("stroke", "#e8101e").attr("stroke-width", 3);
  const ay = g.append("g").attr("transform", "translate(848.3,0)")
    .call(d3.axisLeft(y).tickValues(yTicks).tickSize(5).tickPadding(10).tickFormat(pct1));
  const ax = g.append("g").attr("transform", `translate(0,${bottom})`)
    .call(d3.axisBottom(x).tickValues(xTicks).tickSize(4).tickPadding(7).tickFormat(d => d + "%"));
  [ax, ay].forEach(a => {
    a.select(".domain").attr("stroke", "#444").attr("stroke-width", 1.2);
    a.selectAll("line").attr("stroke", "#444");
    a.selectAll("text").attr("font-size", 15);
  });
}

scatterPanel(77, 255.3, [60, 160], [60,100,140], [1.5, 3.5], [1.5,2,2.5,3,3.5], coreC, pointsC, trendC);
scatterPanel(365, 544, [60, 140], [60,100,140], [1.2, 1.6], [1.2,1.4,1.6], [], pointsF, trendF);
scatterPanel(638.3, 817.3, [20, 180], [20,100,180], [.2, .6], [.2,.4,.6], coreI, pointsI, trendI);
scatterPanel(911.3, 1089.3, [20, 180], [20,100,180], [.7, 1.3], [.7,1,1.3], coreL, pointsL, trendL);

// ---- statistics annotations ----
function stat(xRight, y1, y2, rText, pOp, pVal, sup) {
  const fs = 15.5;
  const t1 = svg.append("text").attr("x", xRight).attr("y", y1).attr("text-anchor", "end").attr("font-size", fs).attr("fill", red);
  t1.append("tspan").attr("font-style", "italic").text("R");
  t1.append("tspan").text(" = " + rText);
  const t2 = svg.append("text").attr("x", xRight).attr("y", y2).attr("text-anchor", "end").attr("font-size", fs).attr("fill", red);
  t2.append("tspan").attr("font-style", "italic").text("p");
  t2.append("tspan").text(` ${pOp} ${pVal}`);
  if (sup) t2.append("tspan").attr("font-size", 10.5).attr("dy", -4.5).text(sup);
}
stat(750, 51, 71, "−0.05", "=", "0.002");
stat(1031, 93, 113, "−0.82", "<", "10", "-100");
stat(750, 339, 359, "−0.07", "=", "0.01");
stat(1031, 385, 405, "−0.73", "<", "10", "-100");
stat(735, 786, 805, "0.64", "<", "10", "-100");
stat(1030, 784, 803, "0.41", "=", "10", "-50");
stat(735, 1055, 1074, "0.59", "<", "10", "-100");
stat(1030, 1057, 1076, "0.25", "<", "10", "-18");

// ---- panel letters ----
const panelLetters = [["a",198,64],["b",517,64],["c",791,64],["d",198,349],["e",516,349],["f",788,349],["g",198,628],["h",517,629],["i",787,628],["j",194,897],["k",516,895],["l",787,895]];
svg.selectAll(".letter").data(panelLetters).enter().append("text").attr("class", "letter")
  .attr("x", d => d[1]).attr("y", d => d[2]).attr("text-anchor", "middle")
  .attr("font-size", 21).attr("font-weight", "bold").attr("fill", "#111").text(d => d[0]);

// ---- column headers ----
function header(x, parts) {
  const t = svg.append("text").attr("x", x).attr("y", 27).attr("text-anchor", "middle").attr("font-size", 23).attr("fill", "#1a1a1a");
  parts.forEach(p => t.append("tspan").attr("font-style", p[1] ? "italic" : "normal").text(p[0]));
}
header(305, [["Relative growth rate", false]]);
header(643, [["G", true], [" vs ", false], ["N", true]]);
header(946, [["G", true], [" vs ", false], ["A", true]]);

// ---- row labels ----
const rowLabels = [["Dividing",100,163,26.5],["(like untreated)",107,184,16.5],
  ["No division",99,450,27],["(unlike oryzalin)",105,471,16.7],
  ["No division",99,725,27],["low osmotic pressure",99,747,18.5],["(like oryzalin)",99,770,18.5],
  ["No division",99,993,27],["high strain threshold",99,1016,18.5],["(like oryzalin)",99,1039,18.5]];
svg.selectAll(".row").data(rowLabels).enter().append("text").attr("class", "row")
  .attr("x", d => d[1]).attr("y", d => d[2]).attr("text-anchor", "middle")
  .attr("font-size", d => d[3]).attr("fill", "#1a1a1a").text(d => d[0]);
</script>
</body>
</html>
